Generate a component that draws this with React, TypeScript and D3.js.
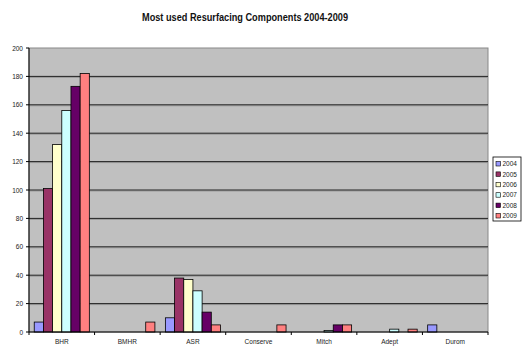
import React from "react";
import * as d3 from "d3";

const categories = ["BHR", "BMHR", "ASR", "Conserve", "Mitch", "Adept", "Durom"];
const years = ["2004", "2005", "2006", "2007", "2008", "2009"];
// one array per year, in category order
const v2004 = [7, 0, 10, 0, 0, 0, 5];
const v2005 = [101, 0, 38, 0, 0, 0, 0];
const v2006 = [132, 0, 37, 0, 0, 0, 0];
const v2007 = [156, 0, 29, 0, 1, 2, 0];
const v2008 = [173, 0, 14, 0, 5, 0, 0];
const v2009 = [182, 7, 5, 5, 5, 2, 0];
const yTicks = [0, 20, 40, 60, 80, 100, 120, 140, 160, 180, 200];
const colors = ["#9999FF", "#993366", "#FFFFCC", "#CCFFFF", "#660066", "#FF8080"];

const series = [v2004, v2005, v2006, v2007, v2008, v2009];

export default function App() {
  const W = 528;
  const H = 353;
  const left = 29;
  const right = 488;
  const top = 48;
  const bottom = 332;

  const x0 = d3.scaleBand().domain(categories).range([left, right]).paddingInner(0).paddingOuter(0);
  const x1 = d3
    .scaleBand()
    .domain(years)
    .range([0, x0.bandwidth()])
    .paddingOuter(0.57)
    .paddingInner(0);
  const y = d3.scaleLinear().domain([0, 200]).range([bottom, top]);

  const font = "Liberation Sans, Arial, sans-serif";

  return (
    <svg width={W} height={H} style={{ position: "absolute", left: 0, top: 0 }} fontFamily={font}>
      <rect x={0} y={0} width={W} height={H} fill="#fff" />
      <text
        x={245}
        y={21}
        textAnchor="middle"
        fontSize={11}
        fontWeight="bold"
        fill="#111"
        textLength={206}
        lengthAdjust="spacingAndGlyphs"
      >
        Most used Resurfacing Components 2004-2009
      </text>

      {/* plot area */}
      <rect x={left} y={top} width={right - left} height={bottom - top} fill="#C0C0C0" stroke="#888" strokeWidth={1} />
      {yTicks.slice(1, -1).map((t) => (
        <g key={t}>
          <line x1={left} x2={right} y1={y(t) + 1} y2={y(t) + 1} stroke="#999" strokeWidth={1} />
          <line x1={left} x2={right} y1={y(t)} y2={y(t)} stroke="#222" strokeWidth={1} />
        </g>
      ))}

      {/* bars */}
      {categories.map((c, ci) => (
        <g key={c} transform={`translate(${x0(c)},0)`}>
          {series.map((s, si) =>
            s[ci] > 0 ? (
              <rect
                key={si}
                x={x1(years[si])}
                y={y(s[ci])}
                width={x1.bandwidth()}
                height={bottom - y(s[ci])}
                fill={colors[si]}
                stroke="#000"
                strokeWidth={0.8}
              />
            ) : null
          )}
        </g>
      ))}

      {/* y axis */}
      <line x1={left} x2={left} y1={top} y2={bottom} stroke="#000" strokeWidth={1} />
      {yTicks.map((t) => (
        <g key={t}>
          <line x1={left - 3} x2={left} y1={y(t)} y2={y(t)} stroke="#000" />
          <text x={left - 6} y={y(t) + 2.5} textAnchor="end" fontSize={6.5} fill="#222">
            {t}
          </text>
        </g>
      ))}

      {/* x axis */}
      <line x1={left} x2={right} y1={bottom} y2={bottom} stroke="#000" strokeWidth={1} />
      {categories.map((c) => (
        <g key={c}>
          <line x1={x0(c)!} x2={x0(c)!} y1={bottom} y2={bottom + 3} stroke="#000" />
          <text x={x0(c)! + x0.bandwidth() / 2} y={bottom + 12} textAnchor="middle" fontSize={6.5} fill="#222">
            {c}
          </text>
        </g>
      ))}
      <line x1={right} x2={right} y1={bottom} y2={bottom + 3} stroke="#000" />

      {/* legend */}
      <rect x={493} y={157} width={28} height={64} fill="#fff" stroke="#000" strokeWidth={0.8} />
      {years.map((yr, i) => (
        <g key={yr} transform={`translate(496,${164 + i * 10.4})`}>
          <rect x={0} y={-2.5} width={4.5} height={4.5} fill={colors[i]} stroke="#000" strokeWidth={0.6} />
          <text x={6.5} y={2.2} fontSize={6.5} fill="#222">
            {yr}
          </text>
        </g>
      ))}
    </svg>
  );
}
